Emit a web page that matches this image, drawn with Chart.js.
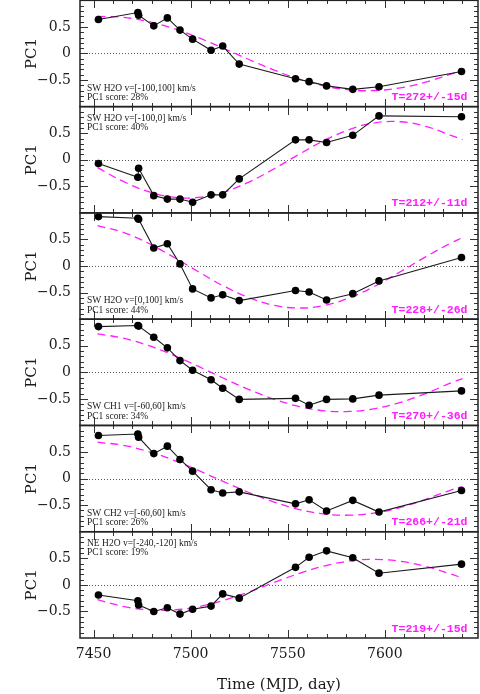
<!DOCTYPE html>
<html><head><meta charset="utf-8">
<script src="https://cdn.jsdelivr.net/npm/chart.js@4"></script>
<style>html,body{margin:0;padding:0;background:#fff}canvas{display:block}</style>
</head><body>
<canvas id="c" width="480" height="694"></canvas>
<script>
// ---------------- data ----------------
const MJD = [7452.5, 7472.8, 7473.2, 7481, 7488, 7494.5, 7501, 7510.5, 7516.5, 7525, 7554, 7561, 7570, 7583.5, 7597, 7639.5];

const PC1_SW_H2O_FULL = [0.64, 0.77, 0.72, 0.52, 0.67, 0.44, 0.27, 0.06, 0.14, -0.20, -0.475, -0.53, -0.61, -0.675, -0.625, -0.34];
const PC1_SW_H2O_BLUE = [-0.07, -0.33, -0.16, -0.675, -0.74, -0.74, -0.80, -0.66, -0.66, -0.36, 0.375, 0.375, 0.325, 0.46, 0.825, 0.81];
const PC1_SW_H2O_RED  = [0.93, 0.90, 0.88, 0.34, 0.42, 0.04, -0.43, -0.60, -0.54, -0.65, -0.46, -0.49, -0.64, -0.52, -0.28, 0.16];
const PC1_SW_CH1      = [0.86, 0.88, 0.87, 0.66, 0.46, 0.22, 0.04, -0.14, -0.30, -0.51, -0.49, -0.62, -0.51, -0.50, -0.43, -0.35];
const PC1_SW_CH2      = [0.81, 0.84, 0.78, 0.47, 0.61, 0.36, 0.14, -0.21, -0.27, -0.25, -0.475, -0.40, -0.61, -0.41, -0.63, -0.225];
const PC1_NE_H2O      = [-0.19, -0.30, -0.38, -0.50, -0.43, -0.55, -0.46, -0.40, -0.17, -0.25, 0.33, 0.52, 0.64, 0.51, 0.22, 0.39];

// dashed fit curves
const FIT_MJD = [7452, 7465, 7478, 7491, 7504, 7517, 7530, 7543, 7556, 7569, 7582, 7595, 7608, 7621, 7634, 7640];
const FIT_SW_H2O_FULL = [0.698, 0.682, 0.604, 0.472, 0.297, 0.096, -0.113, -0.312, -0.484, -0.612, -0.685, -0.697, -0.647, -0.539, -0.39, -0.32];
const FIT_SW_H2O_BLUE = [-0.148, -0.403, -0.597, -0.705, -0.709, -0.609, -0.420, -0.169, 0.106, 0.367, 0.572, 0.695, 0.715, 0.630, 0.46, 0.38];
const FIT_SW_H2O_RED  = [0.760, 0.637, 0.433, 0.172, -0.108, -0.376, -0.595, -0.740, -0.790, -0.740, -0.595, -0.376, -0.108, 0.172, 0.433, 0.535];
const FIT_SW_CH1      = [0.724, 0.645, 0.507, 0.324, 0.111, -0.112, -0.324, -0.507, -0.645, -0.724, -0.737, -0.683, -0.567, -0.400, -0.20, -0.12];
const FIT_SW_CH2      = [0.685, 0.628, 0.513, 0.349, 0.153, -0.058, -0.262, -0.442, -0.582, -0.667, -0.689, -0.647, -0.544, -0.391, -0.215, -0.15];
const FIT_NE_H2O      = [-0.280, -0.403, -0.470, -0.473, -0.410, -0.291, -0.132, 0.045, 0.216, 0.357, 0.450, 0.480, 0.444, 0.348, 0.203, 0.13];

const SERIES_NAMES = ['SW H2O v=[-100,100] km/s', 'SW H2O v=[-100,0] km/s', 'SW H2O v=[0,100] km/s', 'SW CH1 v=[-60,60] km/s', 'SW CH2 v=[-60,60] km/s', 'NE H2O v=[-240,-120] km/s'];
const PC1_SCORES = ['PC1 score: 28%', 'PC1 score: 40%', 'PC1 score: 44%', 'PC1 score: 34%', 'PC1 score: 26%', 'PC1 score: 19%'];
const PERIODS = ['T=272+/-15d', 'T=212+/-11d', 'T=228+/-26d', 'T=270+/-36d', 'T=266+/-21d', 'T=219+/-15d'];

const X_TICK_VALUES = [7450, 7500, 7550, 7600];
const Y_TICK_VALUES = [-0.5, 0, 0.5];
const Y_TICK_TEXT = ['\u22120.5', '0', '0.5'];

// ---------------- chart construction ----------------
const PANEL_VALUES = [PC1_SW_H2O_FULL, PC1_SW_H2O_BLUE, PC1_SW_H2O_RED, PC1_SW_CH1, PC1_SW_CH2, PC1_NE_H2O];
const PANEL_FITS = [FIT_SW_H2O_FULL, FIT_SW_H2O_BLUE, FIT_SW_H2O_RED, FIT_SW_CH1, FIT_SW_CH2, FIT_NE_H2O];
const PANEL_IDS = ['y1', 'y2', 'y3', 'y4', 'y5', 'y6'];
const LABEL_AT_TOP = [false, true, false, false, false, true];
const MAGENTA = '#ff1cff';
const INK = '#1a1a1a';

const datasets = [];
PANEL_IDS.forEach((id, i) => {
  datasets.push({
    label: 'fit ' + i, yAxisID: id, xAxisID: 'x',
    data: FIT_MJD.map((x, k) => ({x, y: PANEL_FITS[i][k]})),
    borderColor: MAGENTA, borderWidth: 1.3, borderDash: [8, 5],
    pointRadius: 0, tension: 0.4, fill: false, order: 2
  });
  datasets.push({
    label: SERIES_NAMES[i], yAxisID: id, xAxisID: 'x',
    data: MJD.map((x, k) => ({x, y: PANEL_VALUES[i][k]})),
    borderColor: INK, borderWidth: 1.1, tension: 0,
    pointRadius: 3.8, pointBackgroundColor: '#000', pointBorderWidth: 0,
    fill: false, order: 1
  });
});

function yScale() {
  return {
    type: 'linear', position: 'left', stack: 'pc', stackWeight: 1,
    min: -1, max: 1,
    grid: {display: false, drawTicks: true, tickLength: 9}, border: {display: false},
    ticks: {
      stepSize: 0.1, autoSkip: false, padding: 0, color: INK,
      font: {family: 'DejaVu Serif', size: 14, lineHeight: 0.05},
      callback: (v) => {
        const k = Y_TICK_VALUES.findIndex(t => Math.abs(t - v) < 1e-6);
        return k >= 0 ? Y_TICK_TEXT[k] : null;
      }
    },
    title: {display: true, text: 'PC1', color: INK, font: {family: 'DejaVu Serif', size: 15}, padding: {top: 23, bottom: 0}},
    afterFit: (s) => { s.width = 80; }
  };
}

const scales = {
  x: {
    type: 'linear', position: 'bottom', min: 7443, max: 7648,
    grid: {display: false, drawTicks: true, tickLength: 8}, border: {display: false},
    ticks: {
      stepSize: 10, autoSkip: false, maxRotation: 0, padding: 0, color: INK, includeBounds: false,
      font: {family: 'DejaVu Serif', size: 14},
      callback: (v) => X_TICK_VALUES.some(t => Math.abs(t - v) < 1e-6) ? String(Math.round(v)) : null
    },
    title: {display: true, text: 'Time (MJD, day)', color: INK, font: {family: 'DejaVu Serif', size: 15}, padding: {top: 0, bottom: 0}},
    afterFit: (s) => { s.height = 56; }
  }
};
// later-defined stacked axes are placed on top
for (let i = PANEL_IDS.length - 1; i >= 0; i--) scales[PANEL_IDS[i]] = yScale();

function drawTicksAndFrames(chart) {
  const ctx = chart.ctx, ca = chart.chartArea, xs = chart.scales.x;
  const L = Math.round(ca.left), R = Math.round(ca.right);
  ctx.save();
  ctx.fillStyle = '#333';
  for (const id of PANEL_IDS) {
    const s = chart.scales[id];
    const T = Math.round(s.top), B = Math.round(s.bottom);
    for (let k = -9; k <= 9; k++) {
      const y = Math.round(s.getPixelForValue(k / 10));
      const len = (k % 5 === 0) ? 8 : 4;
      ctx.fillRect(L, y, len, 1);
      ctx.fillRect(R - len, y, len, 1);
    }
    for (let v = 7450; v <= 7640; v += 10) {
      const x = Math.round(xs.getPixelForValue(v));
      const len = (v % 50 === 0) ? 8 : 4;
      ctx.fillRect(x, T, 1, len);
      ctx.fillRect(x, B - len, 1, len);
    }
  }
  ctx.strokeStyle = '#222'; ctx.lineWidth = 1.5; ctx.setLineDash([]);
  for (const id of PANEL_IDS) {
    const s = chart.scales[id];
    ctx.strokeRect(ca.left, s.top, ca.right - ca.left, s.bottom - s.top);
  }
  ctx.restore();
}

function drawAnnotations(chart) {
  const ctx = chart.ctx, ca = chart.chartArea;
  ctx.save();
  PANEL_IDS.forEach((id, i) => {
    const s = chart.scales[id];
    ctx.fillStyle = INK;
    ctx.font = '9.5px "Liberation Serif"';
    ctx.textAlign = 'left'; ctx.textBaseline = 'alphabetic';
    const x0 = ca.left + 7;
    if (LABEL_AT_TOP[i]) {
      ctx.fillText(SERIES_NAMES[i], x0, s.top + 14);
      ctx.fillText(PC1_SCORES[i], x0, s.top + 23);
    } else {
      ctx.fillText(SERIES_NAMES[i], x0, s.bottom - 16);
      ctx.fillText(PC1_SCORES[i], x0, s.bottom - 6.5);
    }
    ctx.fillStyle = MAGENTA;
    ctx.font = 'bold 11.5px "Liberation Mono"';
    ctx.textAlign = 'right';
    ctx.fillText(PERIODS[i], ca.right - 10.5, s.bottom - 6.5);
  });
  ctx.restore();
}

const panelPlugin = {
  id: 'panels',
  beforeDatasetsDraw(chart) {
    const ctx = chart.ctx, ca = chart.chartArea;
    ctx.save();
    ctx.strokeStyle = '#555'; ctx.lineWidth = 1; ctx.setLineDash([1, 2]);
    PANEL_IDS.forEach(id => {
      const s = chart.scales[id];
      const y = Math.round(s.getPixelForValue(0)) + 0.5;
      ctx.beginPath(); ctx.moveTo(ca.left, y); ctx.lineTo(ca.right, y); ctx.stroke();
    });
    ctx.restore();
  },
  afterDraw(chart) {
    drawTicksAndFrames(chart);
    drawAnnotations(chart);
  }
};

new Chart(document.getElementById('c'), {
  type: 'line',
  data: {datasets},
  options: {
    responsive: false, animation: false, devicePixelRatio: 1,
    layout: {autoPadding: false, padding: {left: 0, right: 2, top: 0, bottom: 0}},
    plugins: {legend: {display: false}, tooltip: {enabled: false}},
    scales
  },
  plugins: [panelPlugin]
});
</script>
</body></html>
